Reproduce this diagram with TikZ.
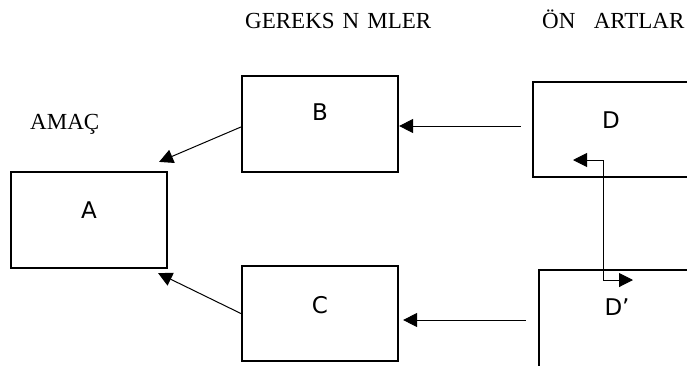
\documentclass[tikz,border=0pt]{standalone}
\usepackage{fontspec}
\setmainfont{Liberation Serif}
\newfontfamily\labfont{DejaVu Sans}
\usetikzlibrary{arrows.meta}
\begin{document}
\begin{tikzpicture}[x=1pt,y=-1pt,
  box/.style={draw, line width=2.2pt, inner sep=0pt, rectangle},
  boxtext/.style={font=\labfont\fontsize{23}{27}\selectfont, inner sep=0pt},
  head/.style={font=\fontsize{23}{27}\selectfont, inner sep=0pt, anchor=base west},
  ptip/.tip={Triangle[length=14pt,width=14pt]},
  link/.style={line width=1pt, -{ptip}}]
\useasboundingbox (0,0) rectangle (687,365);
\clip (0,0) rectangle (687,365);

% headings
\node[head] (hreq) at (245,28) {GEREKS\hspace{0.35em}N\hspace{0.35em}MLER};
\node[head] (hpre) at (542,28) {ÖN\hspace{0.8em}ARTLAR};
\node[head] (hgoal) at (30,129) {AMAÇ};

% boxes
\node[box, minimum width=156pt, minimum height=96pt] (A) at (89,220) {};
\node[box, minimum width=156pt, minimum height=96pt] (B) at (320,124) {};
\node[box, minimum width=156pt, minimum height=95pt] (C) at (320,313.5) {};
\node[box, minimum width=187pt, minimum height=95pt] (D) at (626.5,129.5) {};
\node[box, minimum width=181pt, minimum height=130pt] (Dp) at (629.5,335) {};

% box labels
\node[boxtext] (At) at (89,210) {A};
\node[boxtext] (Bt) at (320,112) {B};
\node[boxtext] (Ct) at (320,305) {C};
\node[boxtext] (Dt) at (611,120) {D};
\node[boxtext] (Dpt) at (617,307) {D’};

% arrow ends near the target box
\coordinate (Aup) at ([shift={(-9,-9)}]A.north east);
\coordinate (Adown) at ([shift={(-10,4)}]A.south east);
\coordinate (Dout) at ([shift={(-11,-3.5)}]D.west);
\coordinate (Dpout) at ([shift={(-12,-15)}]Dp.west);

\draw[link] ([shift={(0,3)}]B.west) -- (Aup);
\draw[link] (C.west) -- (Adown);
\draw[link] (Dout) -- (B.east |- Dout);
\draw[link, shorten >=4pt] (Dpout) -- (C.east |- Dpout);

% two-way link between D and D'
\coordinate (Dtip) at (573,160);
\coordinate (Dbend) at (603,160);
\coordinate (Dpbend) at (603,280);
\coordinate (Dptip) at (633,280);
\draw[line width=1pt, {ptip}-{ptip}] (Dtip) -- (Dbend) -- (Dpbend) -- (Dptip);
\end{tikzpicture}
\end{document}
